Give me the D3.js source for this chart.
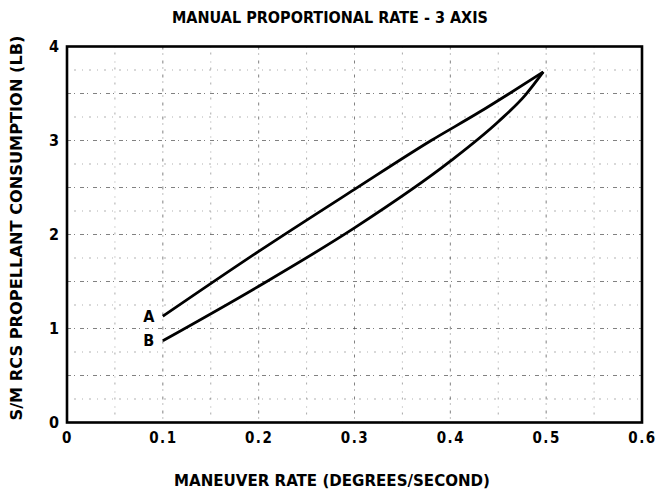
<!DOCTYPE html>
<html>
<head>
<meta charset="utf-8">
<script src="https://cdn.jsdelivr.net/npm/d3@7"></script>
<style>
  html, body { margin: 0; padding: 0; background: #fff; }
  svg text { font-family: "DejaVu Sans Condensed", "DejaVu Sans", sans-serif; font-weight: bold; fill: #000; }
</style>
</head>
<body>
<svg id="chart" width="658" height="497"></svg>
<script>
// ---- data ----
const xTicks = [0, 0.1, 0.2, 0.3, 0.4, 0.5, 0.6];
const xTickLabels = ["0", "0.1", "0.2", "0.3", "0.4", "0.5", "0.6"];
const yTicks = [0, 1, 2, 3, 4];
const yTickLabels = ["0", "1", "2", "3", "4"];
const curveA_x = [0.1, 0.2, 0.3, 0.38, 0.43, 0.46, 0.497];
const curveA_y = [1.13, 1.82, 2.48, 3.00, 3.30, 3.49, 3.73];
const curveB_x = [0.1, 0.2, 0.3, 0.4, 0.45, 0.478, 0.497];
const curveB_y = [0.87, 1.45, 2.07, 2.78, 3.20, 3.48, 3.73];
const seriesLabels = ["A", "B"];
const gridX = [0.05, 0.1, 0.15, 0.2, 0.25, 0.3, 0.35, 0.4, 0.45, 0.5, 0.55];
const gridY = [0.25, 0.5, 0.75, 1, 1.25, 1.5, 1.75, 2, 2.25, 2.5, 2.75, 3, 3.25, 3.5, 3.75];
const title = "MANUAL PROPORTIONAL RATE - 3 AXIS";
const xTitle = "MANEUVER RATE (DEGREES/SECOND)";
const yTitle = "S/M RCS PROPELLANT CONSUMPTION (LB)";

// ---- layout ----
const svg = d3.select("#chart");
const mLeft = 67, mRight = 642, mTop = 46.5, mBottom = 422.5;
const x = d3.scaleLinear().domain([0, 0.6]).range([mLeft, mRight]);
const y = d3.scaleLinear().domain([0, 4]).range([mBottom, mTop]);
const FONT = '"DejaVu Sans Condensed", "DejaVu Sans", sans-serif';

// grid
const g = svg.append("g");
g.selectAll("line.gx").data(gridX).join("line").attr("class", "gx")
  .attr("x1", d => x(d)).attr("x2", d => x(d))
  .attr("y1", mTop).attr("y2", mBottom)
  .attr("stroke", "#444").attr("stroke-width", 0.9)
  .attr("stroke-dasharray", d => (Math.round(d * 100) % 10 === 0) ? "3,4,1,6" : "1,5,2,7")
  .attr("opacity", d => (Math.round(d * 100) % 10 === 0) ? 0.75 : 0.5);
g.selectAll("line.gy").data(gridY).join("line").attr("class", "gy")
  .attr("y1", d => y(d)).attr("y2", d => y(d))
  .attr("x1", mLeft).attr("x2", mRight)
  .attr("stroke", "#444").attr("stroke-width", 0.9)
  .attr("stroke-dasharray", d => (Math.round(d * 100) % 50 === 0) ? "4,3,1,5" : "1,6,2,6")
  .attr("opacity", d => (Math.round(d * 100) % 50 === 0) ? 0.75 : 0.45);

// frame
svg.append("rect").attr("x", mLeft).attr("y", mTop)
  .attr("width", mRight - mLeft).attr("height", mBottom - mTop)
  .attr("fill", "none").attr("stroke", "#000").attr("stroke-width", 2.6);

// axes (labels via d3 axes)
const xAxis = d3.axisBottom(x).tickValues(xTicks).tickSize(0).tickPadding(10)
  .tickFormat((d, i) => xTickLabels[i]);
const gx = svg.append("g").attr("transform", `translate(0,${mBottom})`).call(xAxis);
gx.select(".domain").remove();
gx.selectAll("text").attr("font-size", 15).attr("letter-spacing", "1.5px")
  .style("font-family", FONT).style("font-weight", "bold");

const yAxis = d3.axisLeft(y).tickValues(yTicks).tickSize(0).tickPadding(8)
  .tickFormat((d, i) => yTickLabels[i]);
const gy = svg.append("g").attr("transform", `translate(${mLeft},0)`).call(yAxis);
gy.select(".domain").remove();
gy.selectAll("text").attr("font-size", 16)
  .style("font-family", FONT).style("font-weight", "bold");

// curves
const line = d3.line().x(d => x(d[0])).y(d => y(d[1])).curve(d3.curveMonotoneX);
const A = curveA_x.map((v, i) => [v, curveA_y[i]]);
const B = curveB_x.map((v, i) => [v, curveB_y[i]]);
[A, B].forEach(pts => {
  svg.append("path").datum(pts).attr("d", line)
    .attr("fill", "none").attr("stroke", "#000").attr("stroke-width", 2.8)
    .attr("stroke-linejoin", "round");
});

// series labels
[A, B].forEach((pts, i) => {
  svg.append("text").attr("x", x(pts[0][0]) - 14).attr("y", y(pts[0][1]))
    .attr("text-anchor", "middle").attr("dy", "0.35em")
    .attr("font-size", 16).text(seriesLabels[i]);
});

// titles
svg.append("text").attr("x", 330).attr("y", 23).attr("text-anchor", "middle")
  .attr("font-size", 15).attr("textLength", 316).attr("lengthAdjust", "spacingAndGlyphs").text(title);
svg.append("text").attr("x", 332).attr("y", 486).attr("text-anchor", "middle")
  .attr("font-size", 15).attr("textLength", 316).attr("lengthAdjust", "spacingAndGlyphs").text(xTitle);
svg.append("text").attr("transform", "translate(22,228) rotate(-90)").attr("text-anchor", "middle")
  .attr("font-size", 15).attr("textLength", 385).attr("lengthAdjust", "spacingAndGlyphs").text(yTitle);
</script>
</body>
</html>
